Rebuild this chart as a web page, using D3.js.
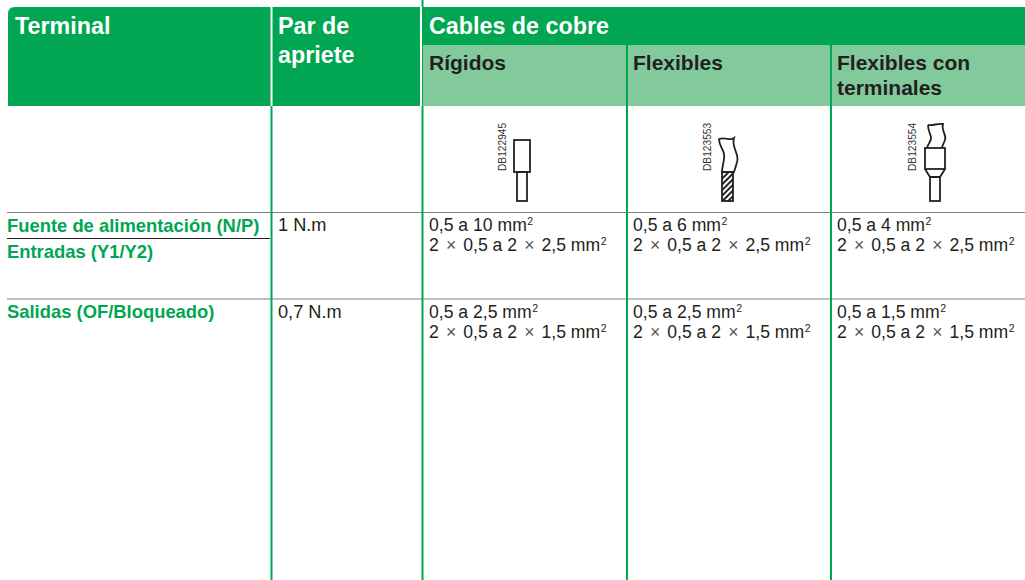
<!DOCTYPE html>
<html>
<head>
<meta charset="utf-8">
<script src="https://cdn.jsdelivr.net/npm/d3@7"></script>
<style>
  html, body { margin: 0; padding: 0; background: #fff; }
  svg { display: block; }
  text { font-family: "Liberation Sans", Arial, sans-serif; }
</style>
</head>
<body>
<svg id="chart" width="1025" height="580"></svg>
<script>
// table content
const mainHeaders = [["Terminal"], ["Par de", "apriete"], ["Cables de cobre"]];
const subHeaders = [["Rígidos"], ["Flexibles"], ["Flexibles con", "terminales"]];
const iconCodes = ["DB122945", "DB123553", "DB123554"];
const terminals = ["Fuente de alimentación (N/P)", "Entradas (Y1/Y2)", "Salidas (OF/Bloqueado)"];
const torques = ["1 N.m", "0,7 N.m"];
const rangesRow1 = [
  ["0,5 a 10 mm", "2 × 0,5 a 2 × 2,5 mm"],
  ["0,5 a 6 mm", "2 × 0,5 a 2 × 2,5 mm"],
  ["0,5 a 4 mm", "2 × 0,5 a 2 × 2,5 mm"]
];
const rangesRow2 = [
  ["0,5 a 2,5 mm", "2 × 0,5 a 2 × 1,5 mm"],
  ["0,5 a 2,5 mm", "2 × 0,5 a 2 × 1,5 mm"],
  ["0,5 a 1,5 mm", "2 × 0,5 a 2 × 1,5 mm"]
];

const GREEN = '#00a651', LIGHT = '#82ca9c', INK = '#231f20', RULE = '#808080';

const svg = d3.select('#chart');

// column positions
const colX = [8, 272, 423, 627, 831, 1025];
const textPad = 6;
const rowY = {head: 7, sub: 45, headEnd: 106, row1: 212.5, split: 238.5, row2: 299, end: 580};

// header blocks
svg.append('path')
  .attr('d', 'M' + colX[0] + ',' + rowY.headEnd + 'V' + (rowY.head + 7) + 'Q' + colX[0] + ',' + rowY.head + ' ' + (colX[0] + 7) + ',' + rowY.head + 'H' + colX[5] + 'V' + rowY.headEnd + 'Z')
  .style('fill', GREEN);

svg.append('rect')
  .attr('x', colX[2]).attr('y', rowY.sub)
  .attr('width', colX[5] - colX[2]).attr('height', rowY.headEnd - rowY.sub)
  .style('fill', LIGHT);

// white gaps in the header
svg.selectAll('.gap').data([colX[1] - 0.5, colX[2] - 2])
  .enter().append('line')
  .attr('x1', d => d).attr('x2', d => d)
  .attr('y1', rowY.head).attr('y2', rowY.headEnd)
  .style('stroke', '#fff').style('stroke-width', 2);

// row rules
svg.selectAll('.rule').data([rowY.row1, rowY.row2])
  .enter().append('line')
  .attr('x1', colX[0] - 1).attr('x2', colX[5])
  .attr('y1', d => d).attr('y2', d => d)
  .style('stroke', RULE).style('stroke-width', 1);

svg.append('line')
  .attr('x1', colX[0] - 1).attr('x2', colX[1] - 2)
  .attr('y1', rowY.split).attr('y2', rowY.split)
  .style('stroke', INK).style('stroke-width', 1);

// column dividers
svg.append('line').attr('x1', colX[1] - 0.5).attr('x2', colX[1] - 0.5)
  .attr('y1', rowY.headEnd).attr('y2', rowY.end)
  .style('stroke', GREEN).style('stroke-width', 2);
svg.append('line').attr('x1', colX[2] - 0.5).attr('x2', colX[2] - 0.5)
  .attr('y1', 0).attr('y2', rowY.head)
  .style('stroke', GREEN).style('stroke-width', 2);
svg.append('line').attr('x1', colX[2] - 0.5).attr('x2', colX[2] - 0.5)
  .attr('y1', rowY.headEnd).attr('y2', rowY.end)
  .style('stroke', GREEN).style('stroke-width', 2);
svg.selectAll('.sub-div').data([colX[3], colX[4]])
  .enter().append('line')
  .attr('x1', d => d).attr('x2', d => d)
  .attr('y1', rowY.sub).attr('y2', rowY.end)
  .style('stroke', GREEN).style('stroke-width', 2);

// main headers
const mainX = [15, colX[1] + 6, colX[2] + textPad];
const mainY = [[34], [34, 63], [34]];
mainHeaders.forEach(function (lines, i) {
  lines.forEach(function (line, j) {
    svg.append('text')
      .attr('x', mainX[i]).attr('y', mainY[i][j])
      .style('font-size', '23.3px').style('font-weight', 'bold').style('fill', '#fff')
      .text(line);
  });
});

// sub headers
subHeaders.forEach(function (lines, i) {
  lines.forEach(function (line, j) {
    svg.append('text')
      .attr('x', colX[i + 2] + textPad).attr('y', 70 + j * 25)
      .style('font-size', '21px').style('font-weight', 'bold').style('fill', INK)
      .text(line);
  });
});

// terminal names
const terminalY = [232, 258, 318];
svg.selectAll('.terminal').data(terminals)
  .enter().append('text')
  .attr('x', 7).attr('y', (d, i) => terminalY[i])
  .style('font-size', '18.4px').style('font-weight', 'bold').style('fill', GREEN)
  .text(d => d);

// torque values
const torqueY = [231, 318];
svg.selectAll('.torque').data(torques)
  .enter().append('text')
  .attr('x', colX[1] + 6).attr('y', (d, i) => torqueY[i])
  .style('font-size', '18.2px').style('fill', INK)
  .text(d => d);

// cable ranges, the cross sits a little apart from the digits
function drawRanges(rows, y) {
  rows.forEach(function (lines, i) {
    lines.forEach(function (line, j) {
      const t = svg.append('text')
        .attr('x', colX[i + 2] + 6).attr('y', y + j * 20)
        .style('font-size', '17.6px').style('fill', INK);
      line.split('×').forEach(function (part, k) {
        if (k > 0) {
          t.append('tspan').attr('dx', 2.2).style('fill', '#555').text('×');
          t.append('tspan').attr('dx', 2.2).text(part);
        } else {
          t.append('tspan').text(part);
        }
      });
      t.append('tspan').attr('dx', 0.5).attr('dy', -6).style('font-size', '10.5px').text('2');
    });
  });
}
drawRanges(rangesRow1, 231);
drawRanges(rangesRow2, 318);

// drawing codes
const codeX = [506, 711, 916];
svg.selectAll('.code').data(iconCodes)
  .enter().append('text')
  .attr('transform', (d, i) => 'translate(' + codeX[i] + ',171) rotate(-90)')
  .style('font-size', '10.2px').style('fill', '#333')
  .text(d => d);

// cable icons
const icon = svg.append('g').style('fill', 'none').style('stroke', '#222').style('stroke-width', 1.8);

// rigid
icon.append('rect').attr('x', 514).attr('y', 140).attr('width', 16).attr('height', 32);
icon.append('rect').attr('x', 517).attr('y', 172).attr('width', 10).attr('height', 29);

// flexible
const hatch = svg.append('defs').append('pattern')
  .attr('id', 'hatch').attr('width', 4).attr('height', 4)
  .attr('patternUnits', 'userSpaceOnUse').attr('patternTransform', 'rotate(-45)');
hatch.append('rect').attr('width', 4).attr('height', 2).style('fill', '#222');
icon.append('path').attr('d', 'M719,139 C726,137 730,141 734,138 C731,148 740,154 737,162 C736,166 735,169 734,172 H722 C722,166 725,160 724,154 C723,148 719,146 719,139 Z');
icon.append('rect').attr('x', 722).attr('y', 172).attr('width', 11).attr('height', 29).style('fill', 'url(#hatch)');

// flexible with ferrule
icon.append('path').attr('d', 'M928,125 C933,126 938,123 943,124 C941,131 947,135 945,140 C944,143 942,146 942,148 M927,148 C928,143 932,141 931,137 C930,133 928,130 928,125');
icon.append('rect').attr('x', 925).attr('y', 148).attr('width', 20).attr('height', 21);
icon.append('path').attr('d', 'M925,169 L930,177 H940 L945,169');
icon.append('rect').attr('x', 930).attr('y', 177).attr('width', 10).attr('height', 24);
</script>
</body>
</html>
